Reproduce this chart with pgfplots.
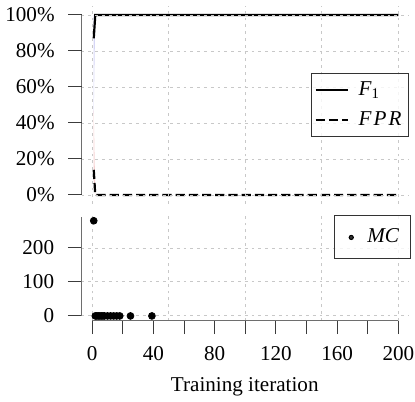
\documentclass[border=0pt]{standalone}
\usepackage{fontspec}
\setmainfont{Liberation Serif}
\usepackage{pgfplots}
\pgfplotsset{compat=1.18}
\definecolor{spinegray}{HTML}{6E6E6E}
\definecolor{tickgray}{HTML}{3C3C3C}
\definecolor{gridgray}{HTML}{C8C8C8}
\definecolor{bandblue}{HTML}{D6D6F6}
\definecolor{bandpink}{HTML}{F6D2D2}

\newcommand{\fs}{\fontsize{10.6}{12.7}\selectfont}
\tikzset{spine/.style={spinegray, line width=0.6bp}}
\pgfplotsset{
  panel/.style={
    scale only axis, width=163.25bp,
    xmin=-7, xmax=206.3,
    axis line style={draw=none},
    tick align=outside, ytick pos=left, xtick pos=bottom,
    major tick length=6.5bp,
    tick style={tickgray, line width=0.5bp},
    ymajorgrids,
    major grid style={gridgray, line width=0.45bp, dash pattern=on 1.4bp off 2bp},
    extra x ticks={0,50,100,150,200}, extra x tick labels={},
    extra x tick style={grid=major, major tick length=0pt},
    font=\fs,
    tick label style={font=\fs},
    yticklabel style={anchor=east, inner sep=0pt, xshift=-6.75bp},
    /pgf/number format/assume math mode=true,
    clip=false,
    legend style={draw=black!80, line width=0.5bp, fill=white, fill opacity=0.8,
      text opacity=1, font=\fs},
    legend cell align=left,
  },
}

\begin{document}
\begin{tikzpicture}
\useasboundingbox (0,0) rectangle (207.5bp,201bp);

% upper panel: F1 and FPR
\begin{axis}[panel, at={(40.75bp,99bp)}, anchor=south west, height=99bp,
  ymin=-5, ymax=105, ytick={0,20,40,60,80,100},
  yticklabels={0\%,20\%,40\%,60\%,80\%,100\%},
  xtick=\empty, axis on top,
  legend style={at={(axis description cs:1.003,0.5)}, anchor=east,
    row sep=2.5bp, inner xsep=1.5pt},
  legend image code/.code={\draw[#1] (0bp,0bp) -- (16.3bp,0bp); \path[draw=none] (0bp,0bp) -- (19.5bp,0bp);},
]
\addplot[fill=bandblue, draw=none, forget plot] coordinates {(1,45) (1,100) (2,100)};
\addplot[fill=bandpink, draw=none, forget plot] coordinates {(1,8) (1,47) (2,0)};
\addplot[black, line width=1.1bp] coordinates {(1,87) (2,100) (3,100) (200,100)};
\addlegendentry{\textit{F}\textsubscript{1}}
\addplot[black, line width=1.1bp, dash pattern=on 4.6bp off 2bp] coordinates {(1,14) (2,0) (3,0) (200,0)};
\addlegendentry{\textit{F\kern0.1em P\kern0.1em R}}
\draw[spine] (axis cs:-7,0) -- (axis cs:-7,100);
\end{axis}

% lower panel: MC
\begin{axis}[panel, at={(40.75bp,40.65bp)}, anchor=south west, height=52.35bp,
  ymin=-14, ymax=294, ytick={0,100,200},
  xtick={0,20,...,200}, xticklabels={0,,40,,80,,120,,160,,200},
  xticklabel style={anchor=base, yshift=-12.9bp},
  major tick length=6.75bp,
  xlabel={Training iteration},
  xlabel style={at={(axis description cs:0.5,0)}, anchor=base, yshift=-35.5bp},
  legend style={at={(axis description cs:1.008,1.005)}, anchor=north east,
    inner xsep=3.5bp, inner ysep=4.5bp},
  legend image code/.code={\fill[black] (5bp,0bp) circle[radius=1.05bp]; \path[draw=none] (0bp,-1bp) rectangle (11bp,1bp);},
]
\addplot[only marks, mark=*, mark size=1.7bp, black] coordinates {
 (1,280) (2,0) (3,0) (4,0) (5,0) (6,0) (7,0) (8,0) (10,0) (12,0) (14,0) (16,0) (18,0) (25,0) (39,0)};
\addlegendentry{\textit{MC}}
\draw[spine] (axis cs:-7,0) -- (axis cs:-7,291);
\draw[spine] (axis cs:0,-14) -- (axis cs:200,-14);
\end{axis}
\end{tikzpicture}
\end{document}
